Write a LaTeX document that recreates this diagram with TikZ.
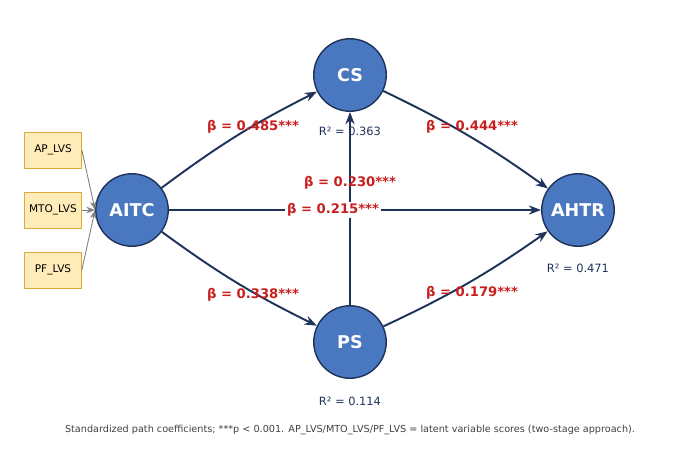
\documentclass[tikz,border=0pt]{standalone}
\usepackage{fontspec}
\setmainfont{DejaVu Sans}
\usetikzlibrary{arrows.meta}
\definecolor{navy}{RGB}{30,50,90}
\definecolor{latent}{RGB}{74,120,192}
\definecolor{boxfill}{RGB}{255,236,185}
\definecolor{boxline}{RGB}{220,170,60}
\definecolor{coef}{RGB}{200,30,30}
\tikzset{
  construct/.style={draw=navy,thick,circle,fill=latent,inner sep=0pt,minimum size=1.45cm,text=white,font=\bfseries\normalsize},
  indicator/.style={draw=boxline,fill=boxfill,rectangle,inner sep=0pt,minimum width=1.14cm,minimum height=0.72cm,font=\fontsize{6}{7}\selectfont},
  path/.style={->,>={Stealth[length=7pt]},draw=navy,line width=1.1pt},
  load/.style={->,>={Stealth[length=5pt]},draw=gray,line width=0.5pt},
  beta/.style={text=coef,font=\bfseries\fontsize{7.5}{9}\selectfont},
  rsq/.style={text=navy,font=\fontsize{6.5}{8}\selectfont}
}
\begin{document}
\begin{tikzpicture}[x=0.02cm,y=-0.02cm]
\useasboundingbox (0,0) rectangle (700,464);
%constructs
\node (aitc) at (132,210) [construct] {AITC};
\node (cs) at (350,75) [construct] {CS};
\node (ps) at (350,342) [construct] {PS};
\node (ahtr) at (578,210) [construct] {AHTR};
%indicators
\node (ap) at (53,150) [indicator] {AP\_LVS};
\node (mto) at (53,210) [indicator] {MTO\_LVS};
\node (pf) at (53,270) [indicator] {PF\_LVS};
\foreach \i in {ap,mto,pf}{
  \draw [load] (\i.east) -- (aitc.west);
}
%structural paths
\draw [path] (aitc) to[bend left=5] (cs);
\draw [path] (aitc) to[bend right=5] (ps);
\draw [path] (cs) to[bend left=5] (ahtr);
\draw [path] (ps) to[bend right=5] (ahtr);
\draw [path] (ps) -- (cs);
\draw [path] (aitc) -- (ahtr);
%coefficients
\node (b1) at (253,127) [beta] {β = 0.485***};
\node (b2) at (472,127) [beta] {β = 0.444***};
\node (b3) at (350,183) [beta] {β = 0.230***};
\node (b4) at (333,210) [beta,fill=white,inner sep=1pt] {β = 0.215***};
\node (b5) at (253,295) [beta] {β = 0.338***};
\node (b6) at (472,293) [beta] {β = 0.179***};
%explained variance
\node (r1) at (350,131) [rsq] {R² = 0.363};
\node (r2) at (578,268) [rsq] {R² = 0.471};
\node (r3) at (350,401) [rsq] {R² = 0.114};
\node (note) at (350,430) [font=\fontsize{5.5}{7}\selectfont,text=black!75] {Standardized path coefficients; ***p < 0.001. AP\_LVS/MTO\_LVS/PF\_LVS = latent variable scores (two-stage approach).};
\end{tikzpicture}
\end{document}
